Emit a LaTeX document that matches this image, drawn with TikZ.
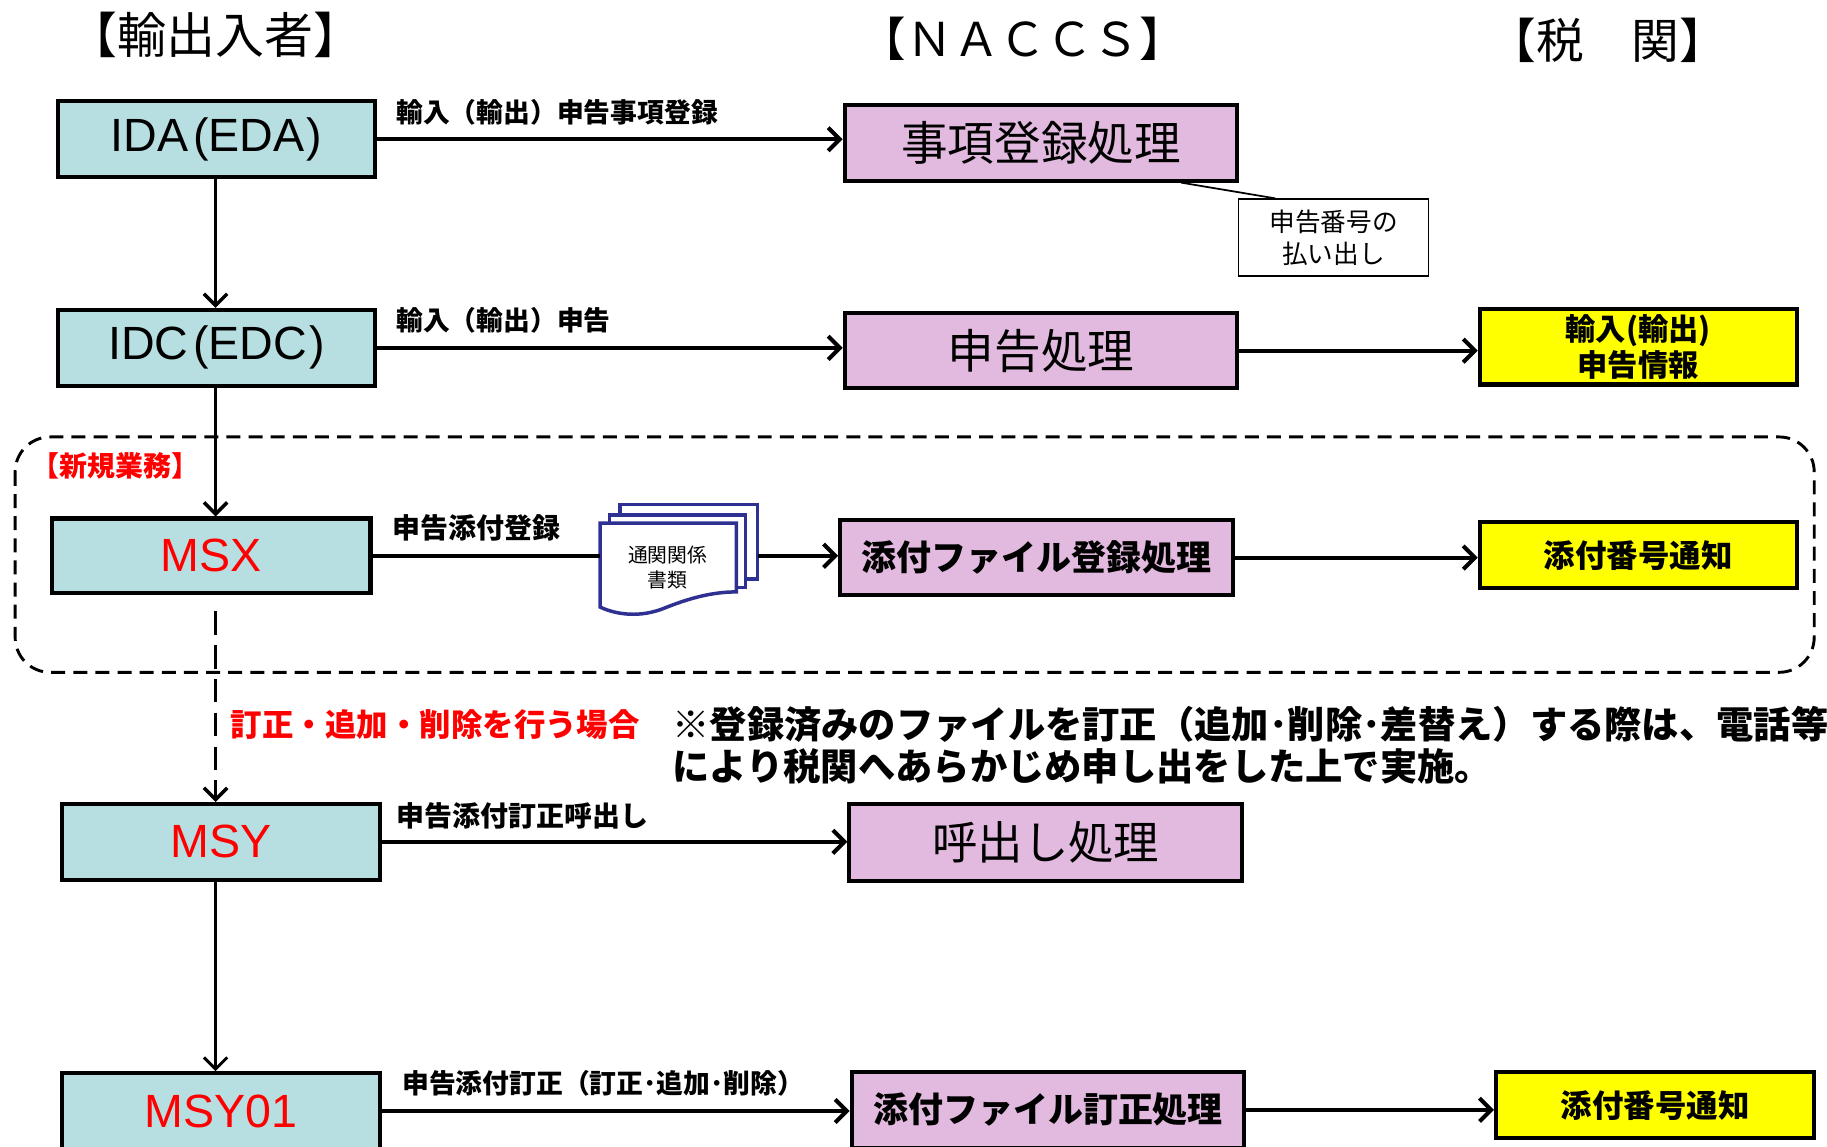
\documentclass[tikz,border=0pt]{standalone}
\usepackage{fontspec}
\setmainfont{Liberation Sans}
\newfontfamily\jp{Noto Sans CJK JP}
\usetikzlibrary{arrows.meta}
\definecolor{cy}{HTML}{B7DFE1}
\definecolor{pk}{HTML}{E3BADF}
\definecolor{yl}{HTML}{FFFF00}
\definecolor{docblue}{HTML}{2E3192}
\definecolor{rd}{HTML}{FF0000}
\newcommand\fsz[2]{\fontsize{#1}{#2}\selectfont}
\begin{document}
\begin{tikzpicture}[x=1pt,y=-1pt,
  box/.style={draw, line width=3.5pt, inner sep=0pt, minimum width=272pt, minimum height=65pt},
  cbox/.style={box, fill=cy},
  pbox/.style={box, fill=pk, minimum width=337pt},
  ybox/.style={box, fill=yl},
  lbl/.style={anchor=west, inner sep=0pt, font=\jp\bfseries\fsz{23}{27}},
  arr/.style={line width=3.5pt, -{Straight Barb[length=10pt,width=20pt]}},
  darr/.style={arr, line width=3pt, dash pattern=on 20pt off 9pt},
  txt/.style={anchor=west, inner sep=0pt}]
\useasboundingbox (0,0) rectangle (1568,984);
\coordinate (col) at (185,0);
% headers
\node[font=\jp\fsz{42}{48}] (h1) at (185,30) {【輸出入者】};
\node[font=\jp\fsz{40}{46}] (h2) at (878,33) {【ＮＡＣＣＳ】};
\node[font=\jp\fsz{41}{46}] (h3) at (1380,35) {【税　関】};
% dashed region
\draw[line width=2.5pt, dash pattern=on 12pt off 7pt, rounded corners=30pt] (13,375) rectangle (1557,577);
% boxes
\node[cbox, font=\fsz{40}{46}] (ida) at (186,119.5) {IDA\hspace{4pt}(EDA\hspace{2pt})};
\node[pbox, font=\jp\fsz{40}{46}] (jiko) at (893.5,122.5) {事項登録処理};
\node[draw, line width=1.5pt, fill=white, minimum width=163pt, minimum height=66pt, inner sep=0pt, align=center, font=\jp\fsz{22}{28}] (bango) at (1144.5,204) {申告番号の\\払い出し};
\node[cbox, font=\fsz{40}{46}] (idc) at (186,298.5) {IDC\hspace{4pt}(EDC\hspace{2pt})};
\node[pbox, minimum height=64pt, font=\jp\fsz{40}{46}] (shin) at (893.5,301) {申告処理};
\node[ybox, align=center, font=\jp\bfseries\fsz{26}{31}] (info) at (1406,297.5) {輸入(輸出)\\申告情報};
\node[cbox, minimum width=273pt, minimum height=64pt, font=\fsz{40}{46}, text=rd] (msx) at (181.5,477) {MSX};
\node[pbox, font=\jp\bfseries\fsz{30}{36}] (tenpu) at (889.5,478.5) {添付ファイル登録処理};
\node[ybox, minimum height=57pt, font=\jp\bfseries\fsz{27}{32}] (notice1) at (1406,476.5) {添付番号通知};
\node[cbox, minimum width=273pt, font=\fsz{40}{46}, text=rd] (msy) at (189.5,722.5) {MSY};
\node[pbox, minimum height=66pt, font=\jp\fsz{39}{46}] (yobi) at (897.5,723) {呼出し処理};
\node[cbox, minimum width=273pt, font=\fsz{40}{46}, text=rd] (msy01) at (189.5,953.5) {MSY01};
\node[pbox, font=\jp\bfseries\fsz{30}{36}] (teisei) at (899.5,952.5) {添付ファイル訂正処理};
\node[ybox, minimum width=273pt, minimum height=57pt, font=\jp\bfseries\fsz{27}{32}] (notice2) at (1420.5,948.5) {添付番号通知};
% document stack
\begin{scope}[draw=docblue, line width=3pt, fill=white]
\filldraw (532,433) rectangle (650,497);
\filldraw (523,442) rectangle (640,504);
\filldraw (515,449) -- (632,449) -- (632,508) .. controls (610,508) and (590,514) .. (570,522) .. controls (550,530) and (530,528) .. (515,521) -- cycle;
\end{scope}
\node[inner sep=0pt, minimum width=135pt, minimum height=94pt] (doc) at (582.5,480) {};
\node[align=center, font=\jp\fsz{17}{21}, inner sep=0pt] (doctxt) at (573,487) {通関関係\\書類};
% connectors
\draw[line width=1.5pt] ([xshift=-50pt]jiko.south east) -- ([xshift=-50pt]bango.north);
\draw[arr] (ida.east) -- (ida.east -| jiko.west);
\draw[arr] (idc.east) -- (idc.east -| shin.west);
\draw[arr] (shin.east) -- (shin.east -| info.west);
\draw[line width=3.5pt] (msx.east) -- (msx.east -| doc.west);
\draw[arr] (msx.east -| doc.east) -- (msx.east -| tenpu.west);
\draw[arr] (tenpu.east) -- (tenpu.east -| notice1.west);
\draw[arr] (msy.east) -- (msy.east -| yobi.west);
\draw[arr] (msy01.east) -- (msy01.east -| teisei.west);
\draw[arr] (teisei.east) -- (teisei.east -| notice2.west);
\draw[arr, line width=3pt] (ida.south -| col) -- (idc.north -| col);
\draw[arr, line width=3pt] (idc.south -| col) -- (msx.north -| col);
\draw[darr] ([yshift=-14pt]msx.south -| col) -- (msy.north -| col);
\draw[arr, line width=2.5pt] (msy.south -| col) -- (msy01.north -| col);
% labels
\node[lbl] (l1) at (340,96) {輸入（輸出）申告事項登録};
\node[lbl] (l2) at (340,275) {輸入（輸出）申告};
\node[lbl, font=\jp\bfseries\fsz{24}{28}] (l3) at (337,453) {申告添付登録};
\node[lbl, font=\jp\bfseries\fsz{24}{28}] (l4) at (340,700) {申告添付訂正呼出し};
\node[lbl] (l5) at (345,930) {申告添付訂正（訂正･追加･削除）};
\node[txt, text=rd, font=\jp\bfseries\fsz{24}{28}] (shinki) at (27,400) {【新規業務】};
\node[txt, text=rd, font=\jp\bfseries\fsz{27}{32}] (case) at (198,622) {訂正・追加・削除を行う場合};
\node[txt, font=\jp\bfseries\fsz{32}{36}] (note1) at (577,622) {※登録済みのファイルを訂正（追加･削除･差替え）する際は、電話等};
\node[txt, font=\jp\bfseries\fsz{32}{36}] (note2) at (577,658) {により税関へあらかじめ申し出をした上で実施。};
\end{tikzpicture}
\end{document}
